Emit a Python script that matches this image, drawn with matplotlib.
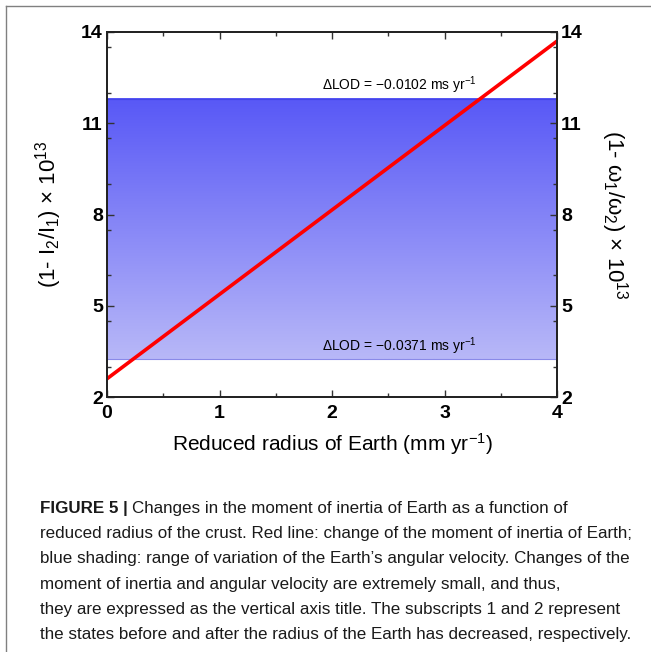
import numpy as np
import matplotlib
matplotlib.use("Agg")
import matplotlib.pyplot as plt
from matplotlib.colors import LinearSegmentedColormap
from matplotlib.lines import Line2D
from matplotlib.ticker import MultipleLocator
from matplotlib import font_manager

# data ---------------------------------------------
radius = [0.0, 4.0]            # reduced radius of Earth (mm/yr)
inertia = [2.6, 13.7]          # (1 - I2/I1) x 1e13
band_low = 3.25                # dLOD = -0.0371 ms/yr
band_high = 11.8               # dLOD = -0.0102 ms/yr
band_labels = ["ΔLOD = −0.0102 ms yr$^{-1}$", "ΔLOD = −0.0371 ms yr$^{-1}$"]
x_ticks = [0, 1, 2, 3, 4]
y_ticks = [2, 5, 8, 11, 14]

caption_bold = "FIGURE 5 | "
caption_lines = [
    "Changes in the moment of inertia of Earth as a function of",
    "reduced radius of the crust. Red line: change of the moment of inertia of Earth;",
    "blue shading: range of variation of the Earth\u2019s angular velocity. Changes of the",
    "moment of inertia and angular velocity are extremely small, and thus,",
    "they are expressed as the vertical axis title. The subscripts 1 and 2 represent",
    "the states before and after the radius of the Earth has decreased, respectively.",
]
# --------------------------------------------------

plt.rcParams["font.family"] = ["Liberation Sans", "DejaVu Sans"]
plt.rcParams["mathtext.fontset"] = "custom"
plt.rcParams["mathtext.rm"] = "Liberation Sans"
plt.rcParams["mathtext.it"] = "Liberation Sans:italic"
plt.rcParams["mathtext.bf"] = "Liberation Sans:bold"

W, H = 651, 652
fig = plt.figure(figsize=(W / 100, H / 100), dpi=100)
ax = fig.add_axes([107 / W, 1 - 397 / H, 450 / W, 365 / H])

# gradient band
cmap = LinearSegmentedColormap.from_list("band", ["#b8b8f8", "#5858f6"])
grad = np.linspace(0, 1, 256).reshape(-1, 1)
ax.imshow(grad, cmap=cmap, origin="lower", aspect="auto",
          extent=[radius[0], radius[1], band_low, band_high], zorder=1)
ax.axhline(band_high, color="#4444e6", lw=0.8, zorder=2)
ax.axhline(band_low, color="#8a8ae8", lw=0.8, zorder=2)

ax.plot(radius, inertia, color="#ff0000", lw=2.6, zorder=3, solid_capstyle="butt")

ax.text(2.6, band_high + 0.08, band_labels[0], ha="center", va="bottom", fontsize=10)
ax.text(2.6, band_low + 0.08, band_labels[1], ha="center", va="bottom", fontsize=10)

ax.set_xlim(0, 4)
ax.set_ylim(2, 14)
ax.set_xticks(x_ticks)
ax.set_yticks(y_ticks)
ax.xaxis.set_minor_locator(MultipleLocator(0.5))
ax.yaxis.set_minor_locator(MultipleLocator(1.5))

ax2 = ax.twinx()
ax2.set_ylim(2, 14)
ax2.set_yticks(y_ticks)
ax2.yaxis.set_minor_locator(MultipleLocator(1.5))

for a in (ax, ax2):
    a.tick_params(which="both", direction="in", color="#333333", width=1.0,
                  top=True, labelsize=14, pad=3)
    a.tick_params(which="major", length=5)
    a.tick_params(which="minor", length=3)
    for lab in a.get_xticklabels() + a.get_yticklabels():
        lab.set_fontweight("bold")
    for s in a.spines.values():
        s.set_linewidth(1.3)
        s.set_color("#222222")
ax.tick_params(axis="x", pad=6)

ax.set_xlabel("Reduced radius of Earth (mm yr$^{-1}$)", fontsize=15, labelpad=6)
ax.set_ylabel("(1- I$_2$/I$_1$) × 10$^{13}$", fontsize=16, labelpad=12)
ax2.set_ylabel("(1- ω$_1$/ω$_2$) × 10$^{13}$", fontsize=16, rotation=270,
               labelpad=34)

# frame around figure + caption
fig.add_artist(Line2D([6 / W, 1], [1 - 6 / H, 1 - 6 / H], color="#808080", lw=1))
fig.add_artist(Line2D([6 / W, 6 / W], [0, 1 - 6 / H], color="#808080", lw=1))

names = {f.name for f in font_manager.fontManager.ttflist}
cap_font = "Liberation Sans Narrow" if "Liberation Sans Narrow" in names else "Liberation Sans"

renderer = fig.canvas.get_renderer()
probe = fig.text(0, 0, caption_lines[1], fontsize=10, family=cap_font)
w10 = probe.get_window_extent(renderer).width
probe.remove()
cap_size = 10 * 596 / w10

x0 = 40 / W
y_first = 508
step = 25.4
bold = fig.text(x0, 1 - y_first / H, caption_bold, fontsize=cap_size,
                family=cap_font, fontweight="bold", va="center", color="#1a1a1a")
bw = bold.get_window_extent(renderer).width
fig.text(x0 + bw / W, 1 - y_first / H, caption_lines[0], fontsize=cap_size,
         family=cap_font, va="center", color="#1a1a1a")
for i, line in enumerate(caption_lines[1:], start=1):
    fig.text(x0, 1 - (y_first + i * step) / H, line, fontsize=cap_size,
             family=cap_font, va="center", color="#1a1a1a")

fig.savefig("out.png", dpi=100)
